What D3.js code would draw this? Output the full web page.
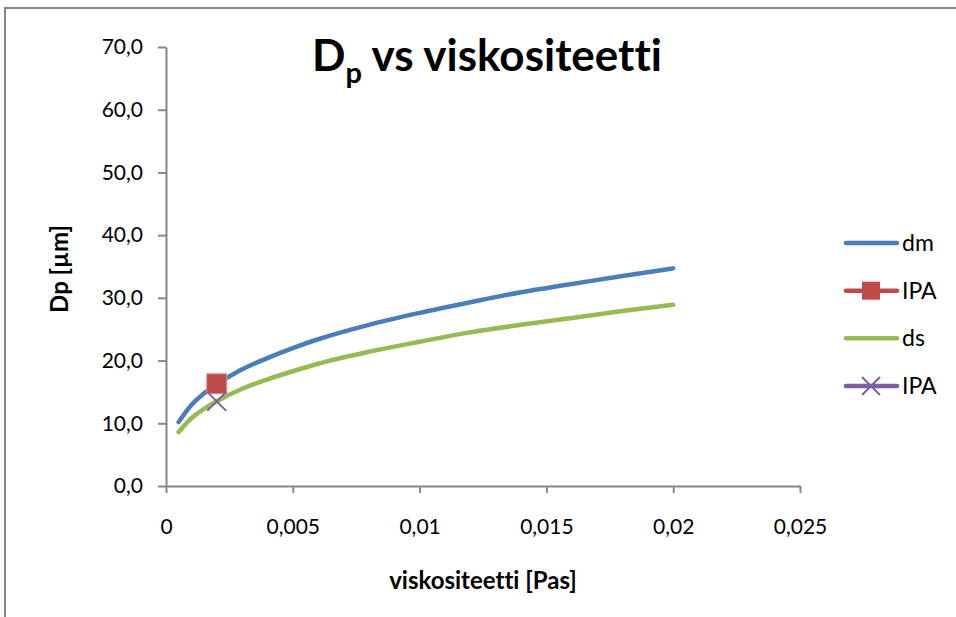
<!DOCTYPE html>
<html><head><meta charset="utf-8">
<script src="https://cdn.jsdelivr.net/npm/d3@7"></script>
<style>body{margin:0;background:#fff}svg{display:block}text{font-family:Lato,"Open Sans",sans-serif;font-variant-ligatures:none;font-feature-settings:"liga" 0}</style>
</head><body>
<svg id="c" width="956" height="617"></svg>
<script>
const xs = [0.0005,0.001,0.0015,0.002,0.003,0.004,0.005,0.006,0.008,0.01,0.012,0.014,0.016,0.018,0.02];
const dm = [10.2,12.9,14.8,16.2,18.6,20.4,22.0,23.4,25.7,27.6,29.3,30.9,32.2,33.5,34.7];
const ds = [8.6,10.8,12.3,13.5,15.5,17.0,18.3,19.5,21.4,23.0,24.5,25.7,26.8,27.9,28.9];
const ipaDm = [[0.002,16.3]];
const ipaDs = [[0.002,13.5]];
const xTicks = [0,0.005,0.01,0.015,0.02,0.025];
const yTicks = [0,10,20,30,40,50,60,70];
const legendNames = ["dm","IPA","ds","IPA"];

const svg = d3.select("#c");
const gray = "#868686";
svg.append("rect").attr("x",5).attr("y",8).attr("width",960).attr("height",620)
  .attr("fill","none").attr("stroke",gray).attr("stroke-width",2);

const x = d3.scaleLinear().domain([0,0.025]).range([166,800]);
const y = d3.scaleLinear().domain([0,70]).range([486,47]);

const fmtX = d => d===0 ? "0" : String(d).replace(".",",");
const fmtY = d => d.toFixed(1).replace(".",",");

const gx = svg.append("g").attr("transform","translate(0,486)")
  .call(d3.axisBottom(x).tickValues(xTicks).tickFormat(fmtX).tickSizeInner(7).tickSizeOuter(0).tickPadding(26));
const gy = svg.append("g").attr("transform","translate(166,0)")
  .call(d3.axisLeft(y).tickValues(yTicks).tickFormat(fmtY).tickSizeInner(8).tickSizeOuter(0).tickPadding(15));
[gx,gy].forEach(g=>{
  g.select(".domain").attr("stroke",gray).attr("stroke-width",2);
  g.selectAll(".tick line").attr("stroke",gray).attr("stroke-width",2);
  g.selectAll(".tick text").attr("font-size",21).attr("fill","#000");
});

const line = d3.line().x(d=>x(d[0])).y(d=>y(d[1])).curve(d3.curveMonotoneX);
const colors = {dm:"#4a7ebb", ipa1:"#be4b48", ds:"#98b954", ipa2:"#7d60a0"};
svg.append("path").datum(xs.map((v,i)=>[v,dm[i]])).attr("d",line)
  .attr("fill","none").attr("stroke",colors.dm).attr("stroke-width",4.5).attr("stroke-linecap","round");
svg.append("path").datum(xs.map((v,i)=>[v,ds[i]])).attr("d",line)
  .attr("fill","none").attr("stroke",colors.ds).attr("stroke-width",4.5).attr("stroke-linecap","round");

svg.selectAll(".sq").data(ipaDm).enter().append("rect")
  .attr("x",d=>x(d[0])-10).attr("y",d=>y(d[1])-10).attr("width",20).attr("height",20)
  .attr("fill",colors.ipa1).attr("stroke","#d99694").attr("stroke-width",1);
svg.selectAll(".xm").data(ipaDs).enter().append("path")
  .attr("d",d=>{const cx=x(d[0]),cy=y(d[1]);return `M${cx-9.5},${cy-9.5}L${cx+9.5},${cy+9.5}M${cx-9.5},${cy+9.5}L${cx+9.5},${cy-9.5}`;})
  .attr("stroke",colors.ipa2).attr("stroke-width",2).attr("fill","none");

// title
const t = svg.append("text").attr("x",487).attr("y",71).attr("text-anchor","middle")
  .attr("font-size",44).attr("font-weight","bold").attr("fill","#000");
t.append("tspan").text("D");
t.append("tspan").attr("font-size",29).attr("dy",12).text("p");
t.append("tspan").attr("dy",-12).text(" vs viskositeetti");

// axis titles
svg.append("text").attr("x",483).attr("y",589).attr("text-anchor","middle")
  .attr("font-size",24).attr("font-weight","bold").text("viskositeetti [Pas]");
svg.append("text").attr("transform","translate(68,269) rotate(-90)").attr("text-anchor","middle")
  .attr("font-size",24).attr("font-weight","bold").text("Dp [µm]");

// legend
const lcol = [colors.dm, colors.ipa1, colors.ds, colors.ipa2];
const ly = d3.scalePoint().domain(d3.range(4)).range([243,386]);
const lg = svg.append("g");
legendNames.forEach((n,i)=>{
  const yy = ly(i);
  lg.append("line").attr("x1",846).attr("x2",897).attr("y1",yy).attr("y2",yy)
    .attr("stroke",lcol[i]).attr("stroke-width",4.5).attr("stroke-linecap","round");
  if(i===1) lg.append("rect").attr("x",862).attr("y",yy-9).attr("width",18).attr("height",18).attr("fill",colors.ipa1);
  if(i===3) lg.append("path").attr("d",`M${862},${yy-9}L${880},${yy+9}M${862},${yy+9}L${880},${yy-9}`).attr("stroke",colors.ipa2).attr("stroke-width",2);
  lg.append("text").attr("x",902).attr("y",yy+8).attr("font-size",23).text(n);
});
</script>
</body></html>
